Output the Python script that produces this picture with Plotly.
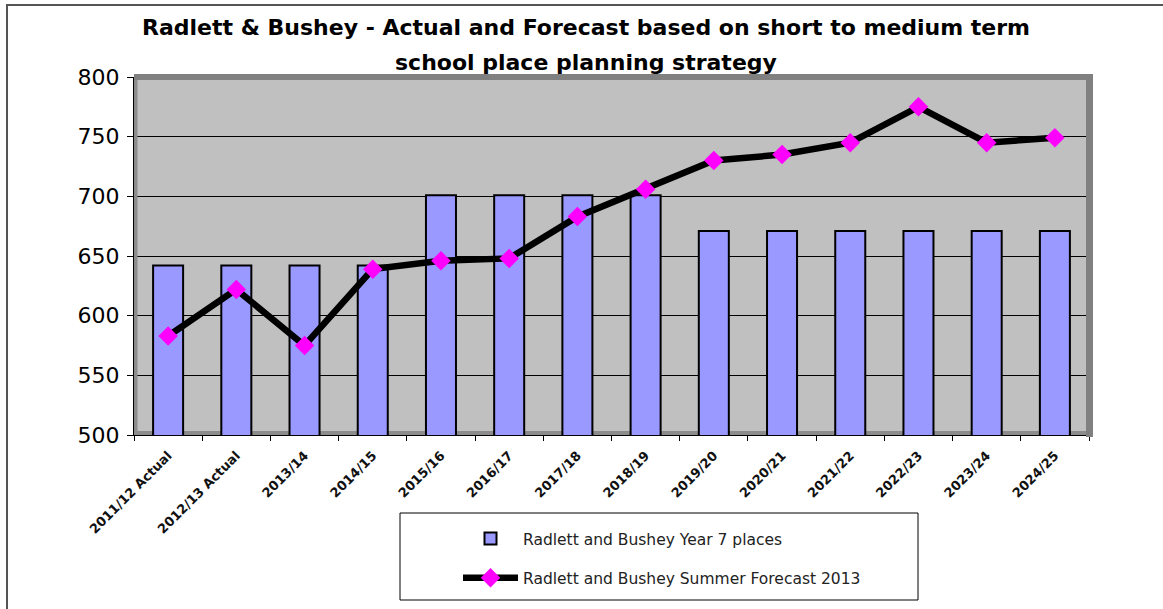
import plotly.graph_objects as go

categories = ["2011/12 Actual", "2012/13 Actual", "2013/14", "2014/15", "2015/16",
              "2016/17", "2017/18", "2018/19", "2019/20", "2020/21", "2021/22",
              "2022/23", "2023/24", "2024/25"]
year7_places = [642, 642, 642, 642, 701, 701, 701, 701, 671, 671, 671, 671, 671, 671]
summer_forecast = [583, 622, 575, 639, 646, 648, 683, 706, 730, 735, 745, 775, 745, 749]

title_line1 = "Radlett & Bushey - Actual and Forecast based on short to medium term"
title_line2 = "school place planning strategy"
bar_name = "Radlett and Bushey Year 7 places"
line_name = "Radlett and Bushey Summer Forecast 2013"

W, H = 1163, 609
L, R, T, B = 134, 74, 77, 174
PW, PH = W - L - R, H - T - B


def px(x):
    return (x - L) / PW


def py(y):
    return (H - B - y) / PH


fig = go.Figure()
fig.add_trace(go.Bar(
    x=categories, y=year7_places, name=bar_name, width=0.44,
    marker=dict(color="#9999FF", line=dict(color="black", width=2)),
    legendgroup="a",
))
fig.add_trace(go.Scatter(
    x=categories, y=summer_forecast, name=line_name, mode="lines+markers",
    line=dict(color="black", width=6.5),
    marker=dict(symbol="diamond", color="#FF00FF", size=15),
    legendgroup="b",
))

font = "DejaVu Sans, Verdana, sans-serif"
shapes = [
    dict(type="rect", xref="paper", yref="paper", x0=px(7), x1=px(1175), y0=py(620), y1=py(5),
         line=dict(color="#555555", width=2), fillcolor="rgba(0,0,0,0)", layer="below"),
    dict(type="rect", xref="paper", yref="paper", x0=px(134), x1=px(1093), y0=py(80), y1=py(74),
         line=dict(width=0), fillcolor="#808080", layer="above"),
    dict(type="rect", xref="paper", yref="paper", x0=px(1086), x1=px(1093), y0=py(437), y1=py(74),
         line=dict(width=0), fillcolor="#808080", layer="above"),
    dict(type="rect", xref="paper", yref="paper", x0=px(137), x1=px(1089), y0=py(435), y1=py(431),
         line=dict(width=0), fillcolor="#8c8c8c", layer="below"),
    dict(type="rect", xref="paper", yref="paper", x0=px(134), x1=px(137.5), y0=py(435), y1=py(80),
         line=dict(width=0), fillcolor="#8c8c8c", layer="above"),
    dict(type="rect", xref="paper", yref="paper", x0=px(400), x1=px(918), y0=py(600), y1=py(513),
         line=dict(color="black", width=1), fillcolor="white", layer="below"),
]

fig.update_layout(
    width=W, height=H,
    margin=dict(l=L, r=R, t=T, b=B),
    paper_bgcolor="white", plot_bgcolor="#C0C0C0",
    font=dict(family=font, color="black"),
    showlegend=True,
    legend=dict(x=px(458), y=py(522), xanchor="left", yanchor="top",
                bgcolor="rgba(0,0,0,0)", borderwidth=0,
                font=dict(size=15.5, family=font, color="#222222"),
                traceorder="grouped", tracegroupgap=16, itemwidth=55),
    xaxis=dict(type="category", range=[-0.5, len(categories) - 0.5], tickangle=-45,
               tickfont=dict(size=13, family=font, weight="bold", color="#111111"),
               showline=True, linecolor="black", linewidth=1,
               ticks="outside", ticklen=5, tickcolor="black", ticklabelstandoff=7,
               tickson="boundaries", showgrid=False),
    yaxis=dict(range=[500, 800], dtick=50, tickfont=dict(size=22, family=font),
               showline=True, linecolor="black", linewidth=1,
               ticks="outside", ticklen=6, tickcolor="black", ticklabelstandoff=3,
               gridcolor="black", gridwidth=1, zeroline=False),
    bargap=0.56,
    shapes=shapes,
    annotations=[
        dict(text="<b>" + title_line1 + "</b>", xref="paper", yref="paper",
             x=px(586), y=py(27), xanchor="center", yanchor="middle", showarrow=False,
             font=dict(size=22, family=font, color="black")),
        dict(text="<b>" + title_line2 + "</b>", xref="paper", yref="paper",
             x=px(586), y=py(62), xanchor="center", yanchor="middle", showarrow=False,
             font=dict(size=22, family=font, color="black")),
    ],
)

fig.write_html("out.html", post_script="document.body.style.margin='0';",
               config={"displayModeBar": False})
